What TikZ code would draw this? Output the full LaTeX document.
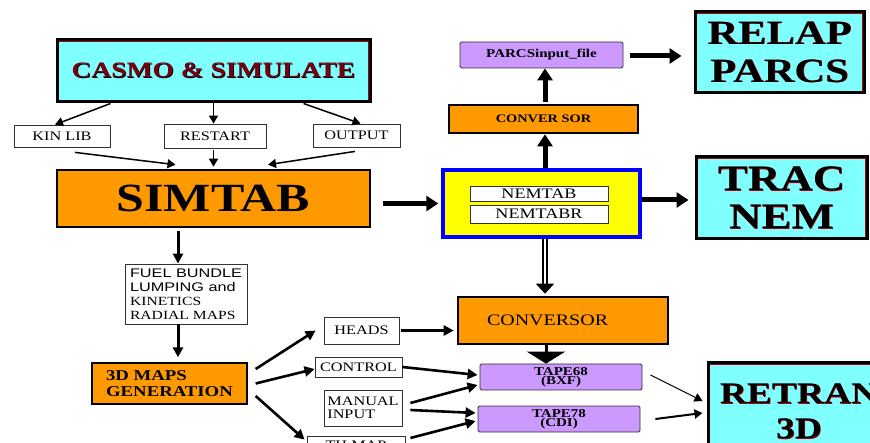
\documentclass[tikz,border=0pt]{standalone}
\usepackage{fontspec}
\setmainfont{Liberation Serif}[FakeStretch=1.25]
\newfontfamily\fuelsans{Liberation Sans}[FakeStretch=1.3]
\usepackage{tikz}
\usetikzlibrary{arrows.meta, calc}
\definecolor{simcyan}{RGB}{128,255,255}
\definecolor{simorange}{RGB}{255,153,0}
\definecolor{tapelilac}{RGB}{204,153,255}
\definecolor{nemyellow}{RGB}{255,255,0}
\definecolor{nemblue}{RGB}{0,0,255}
\definecolor{rimred}{RGB}{170,0,20}
\definecolor{casmored}{RGB}{120,0,16}
\definecolor{boxgray}{RGB}{50,50,50}
% text with a slight coloured rim, as on the big code boxes
\newcommand\rimtext[3]{\rlap{\color{#1}\kern0.7pt\raisebox{-0.6pt}{#3}}{\color{#2}#3}}
\tikzset{
  codebox/.style={rectangle, draw=black, line width=3pt, fill=simcyan,
    path picture={\draw[rimred, line width=4.8pt]
      (path picture bounding box.south west) rectangle (path picture bounding box.north east);},
    align=center, inner sep=0pt, font=\bfseries},
  orangebox/.style={rectangle, draw=black, line width=2.6pt, fill=simorange,
    align=center, inner sep=0pt},
  labelbox/.style={rectangle, draw=boxgray, line width=0.8pt, fill=white,
    align=center, inner sep=0pt, font=\fontsize{13}{14}\selectfont},
  tapebox/.style={rectangle, draw=boxgray, line width=0.8pt, fill=tapelilac,
    rounded corners=1.5pt, align=center, inner sep=0pt},
  nembox/.style={rectangle, draw=nemblue, line width=3.5pt, fill=nemyellow,
    inner sep=0pt},
  thinarrow/.style={-{Triangle[length=8pt,width=9pt]}, line width=1.5pt, color=black},
  midarrow/.style={-{Triangle[length=10pt,width=10pt]}, line width=2.6pt, color=black},
  fatarrow/.style={-{Triangle[length=12pt,width=15pt]}, line width=5pt, color=black},
  dblarrow/.style={-{Triangle[length=10pt,width=18pt]}, draw=black, double=white,
    line width=1.8pt, double distance=2.2pt},
  widearrow/.style={-{Triangle[length=12pt,width=38pt]}, line width=3pt, color=black}
}

\begin{document}
\begin{tikzpicture}[x=1pt, y=-1pt]
  \path[use as bounding box, fill=white] (0,0) rectangle (870,443);

  % lattice codes and SIMTAB
  \node[codebox, minimum width=313pt, minimum height=62pt,
    font=\bfseries\fontsize{22}{26}\selectfont] (casmo) at (213.5,71)
    {\rimtext{black}{casmored}{CASMO \& SIMULATE}};
  \node[labelbox, minimum width=96pt, minimum height=22pt] (kin) at (62,136) {KIN LIB};
  \node[labelbox, minimum width=102pt, minimum height=24pt] (restart) at (215,136) {RESTART};
  \node[labelbox, minimum width=87pt, minimum height=23pt] (output) at (356.5,135.5) {OUTPUT};
  \node[orangebox, minimum width=313pt, minimum height=57pt,
    font=\bfseries\fontsize{40}{44}\selectfont] (simtab) at (213.5,198.5) {SIMTAB};
  \node[labelbox, minimum width=122pt, minimum height=60pt, align=left,
    font=\fontsize{12.5}{14}\selectfont] (fuel) at (186,294)
    {{\fuelsans FUEL BUNDLE}\\{\fuelsans LUMPING and}\\KINETICS\\RADIAL MAPS};
  \node[orangebox, line width=1.3pt, minimum width=155pt, minimum height=41pt, align=left,
    font=\bfseries\fontsize{15}{16}\selectfont] (maps) at (169.5,383.5)
    {3D MAPS\\GENERATION};

  % map inputs
  \node[labelbox, minimum width=75pt, minimum height=27pt] (heads) at (361.5,330.5) {HEADS};
  \node[labelbox, minimum width=87pt, minimum height=20pt] (control) at (358.5,367) {CONTROL};
  \node[labelbox, minimum width=78pt, minimum height=36pt, align=left,
    font=\fontsize{13}{13}\selectfont] (manual) at (363,408) {MANUAL\\INPUT};
  \node[labelbox, minimum width=98pt, minimum height=18pt] (thmap) at (356,445) {TH MAP};

  % NEM tables and converters
  \node[nembox, minimum width=197pt, minimum height=67pt] (nem) at (541.5,203.5) {};
  \node[labelbox, minimum width=138pt, minimum height=15pt,
    font=\fontsize{14.5}{15}\selectfont] (nemtab) at (539,193.5) {NEMTAB};
  \node[labelbox, minimum width=138pt, minimum height=18pt,
    font=\fontsize{14.5}{15}\selectfont] (nemtabr) at (539,214) {NEMTABR};
  \node[orangebox, minimum width=189pt, minimum height=28pt,
    font=\bfseries\fontsize{11.5}{12}\selectfont] (convtop) at (543.5,119) {CONVER SOR};
  \node[tapebox, minimum width=163pt, minimum height=26pt,
    font=\bfseries\fontsize{12}{13}\selectfont] (parcsin) at (541.5,55) {PARCSinput\_file};
  \node[orangebox, minimum width=210pt, minimum height=47pt, text width=152pt,
    inner xsep=29pt, align=left, font=\fontsize{16}{18}\selectfont] (conv) at (563,320.5)
    {CONVERSOR};
  \node[tapebox, minimum width=162pt, minimum height=26pt,
    font=\bfseries\fontsize{12}{9}\selectfont] (tape68) at (561,377) {TAPE68\\(BXF)};
  \node[tapebox, minimum width=162pt, minimum height=26pt,
    font=\bfseries\fontsize{12}{9}\selectfont] (tape78) at (559,419) {TAPE78\\(CDI)};

  % system codes
  \node[codebox, minimum width=169pt, minimum height=81pt,
    font=\bfseries\fontsize{34}{38}\selectfont] (relap) at (779.5,52.5)
    {\rimtext{rimred}{black}{RELAP}\\\rimtext{rimred}{black}{PARCS}};
  \node[codebox, minimum width=171pt, minimum height=82pt,
    font=\bfseries\fontsize{36}{38}\selectfont] (trac) at (781.5,198)
    {\rimtext{rimred}{black}{TRAC}\\\rimtext{rimred}{black}{NEM}};
  \node[codebox, minimum width=182pt, minimum height=98pt,
    font=\bfseries\fontsize{30}{35}\selectfont] (retran) at (799,412)
    {\rimtext{rimred}{black}{RETRAN}\\\rimtext{rimred}{black}{3D}};

  % CASMO outputs into SIMTAB
  \draw[thinarrow] ([xshift=-103pt]casmo.south) -- ([xshift=-7pt]kin.north);
  \draw[thinarrow] (casmo.south) -- (casmo.south |- restart.north);
  \draw[thinarrow] ([xshift=90pt]casmo.south) -- ([xshift=4pt]output.north);
  \draw[thinarrow] ([xshift=13pt,yshift=-5pt]kin.south) -- ([xshift=-38pt,yshift=4pt]simtab.north);
  \draw[thinarrow, shorten <=2pt] (casmo.south |- restart.south) -- ([yshift=2pt]simtab.north);
  \draw[thinarrow] ([xshift=-1.5pt,yshift=-4pt]output.south) -- ([xshift=54.5pt,yshift=4pt]simtab.north);

  % SIMTAB down to the 3D maps
  \draw[midarrow, line width=3pt, shorten <=3pt] ([xshift=-35.5pt]simtab.south) -- ([xshift=-8pt]fuel.north);
  \draw[midarrow, line width=3pt] ([xshift=-8pt]fuel.south) -- ([xshift=8.5pt,yshift=5pt]maps.north);
  \draw[midarrow] ([xshift=8pt,yshift=14.5pt]maps.east) -- ([xshift=-8pt]heads.west);
  \draw[midarrow] ([xshift=8pt]maps.east) -- ([yshift=-2pt]control.west);
  \draw[midarrow] ([xshift=8pt,yshift=-12.5pt]maps.east) -- ([xshift=-2pt,yshift=-4pt]thmap.north west);

  % into the bottom converter and the tapes
  \draw[midarrow, shorten <=2pt, shorten >=3pt] (heads.east) -- (heads.east -| conv.west);
  \draw[midarrow] (control.east) -- ([xshift=-2pt,yshift=2pt]tape68.west);
  \draw[midarrow] ([xshift=8pt,yshift=5pt]manual.east) -- ([xshift=-2pt,yshift=-8pt]tape68.west);
  \draw[midarrow] ([xshift=8pt,yshift=-2pt]manual.east) -- ([xshift=-2pt,yshift=6pt]tape78.west);
  \draw[midarrow] ([xshift=5pt,yshift=7pt]thmap.east) -- ([xshift=-2pt,yshift=-2pt]tape78.west);
  \draw[dblarrow, shorten >=2pt] ([xshift=3.5pt]nem.south) -- ([xshift=-18pt]conv.north);
  \draw[widearrow] ([xshift=-17pt]conv.south) -- ([xshift=-15pt]tape68.north);
  \draw[thinarrow, line width=1pt] ([xshift=8pt,yshift=2pt]tape68.east) -- ([xshift=-4pt,yshift=11pt]retran.west);
  \draw[thinarrow, line width=2pt] ([xshift=15pt]tape78.east) -- ([xshift=-4pt,yshift=-1pt]retran.west);

  % NEM tables out to the system codes
  \draw[fatarrow, shorten <=12pt, shorten >=3pt] (simtab.east |- nem.west) -- (nem.west);
  \draw[fatarrow] ([xshift=3.5pt]nem.north) -- ([xshift=1.5pt]convtop.south);
  \draw[fatarrow, shorten <=2pt] ([xshift=1.5pt]convtop.north) -- ([xshift=3.5pt]parcsin.south);
  \draw[fatarrow, shorten <=7pt, shorten >=12pt] ([yshift=-1pt]parcsin.east) -- ([yshift=-1pt]parcsin.east -| relap.west);
  \draw[fatarrow, shorten >=6pt] ([yshift=3.5pt]nem.east) -- ([yshift=3.5pt]nem.east -| trac.west);
\end{tikzpicture}
\end{document}
